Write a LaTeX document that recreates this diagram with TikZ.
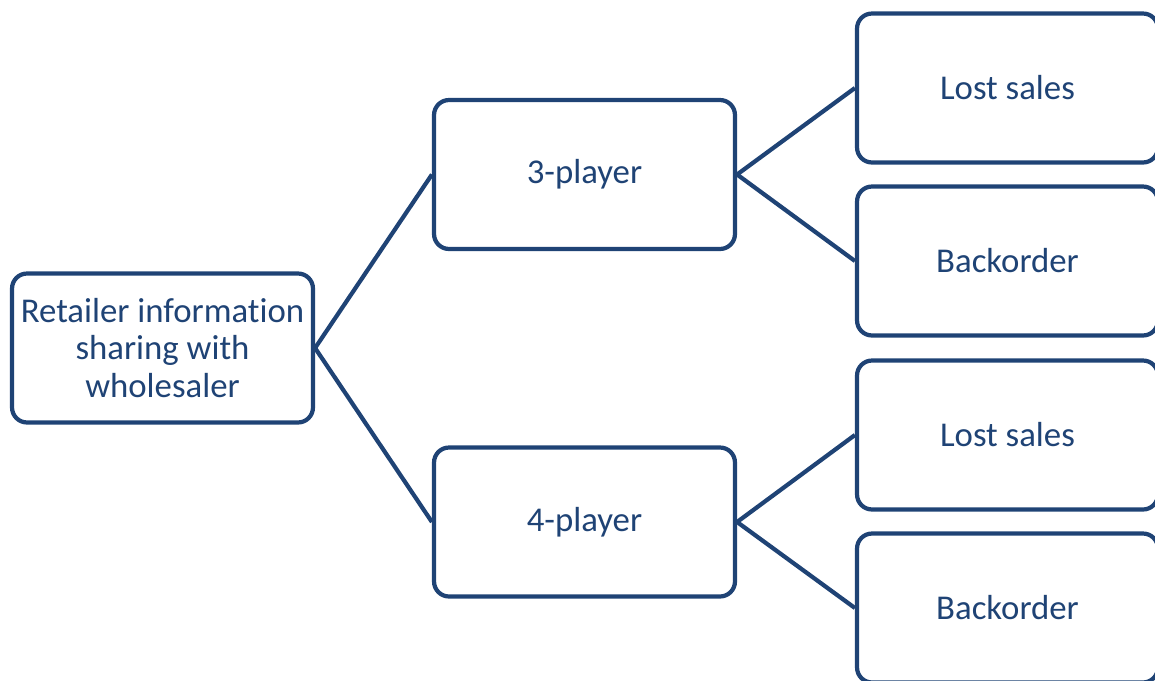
\documentclass[tikz,border=0pt]{standalone}
\usepackage{tikz}
\usepackage{xcolor}
\usepackage{fontspec}
\setmainfont{Carlito}[Ligatures=NoCommon]
\definecolor{treeblue}{RGB}{31,67,117}

\begin{document}
\begin{tikzpicture}[x=0.02cm,y=-0.02cm,
  leaf/.style={draw=treeblue,line width=2.4pt,rounded corners=0.3cm,
    minimum width=6.02cm,minimum height=2.98cm,align=center,
    text=treeblue,font=\fontsize{19.8}{21.5}\selectfont,inner sep=2pt},
  branch/.style={treeblue,line width=2.4pt}]
\clip (0,0) rectangle (1155,680);
\useasboundingbox (0,0) rectangle (1155,680);
\node[leaf] (root) at (162.5,348) {Retailer information\\sharing with\\wholesaler};
\node[leaf] (three) at (584.5,174.5) {3-player};
\node[leaf] (four) at (584.5,522) {4-player};
\node[leaf] (lostA) at (1007.5,88) {Lost sales};
\node[leaf] (backA) at (1007.5,261) {Backorder};
\node[leaf] (lostB) at (1007.5,435) {Lost sales};
\node[leaf] (backB) at (1007.5,608) {Backorder};
\draw[branch] (root.east) -- (three.west);
\draw[branch] (root.east) -- (four.west);
\draw[branch] (three.east) -- (lostA.west);
\draw[branch] (three.east) -- (backA.west);
\draw[branch] (four.east) -- (lostB.west);
\draw[branch] (four.east) -- (backB.west);
\end{tikzpicture}
\end{document}
